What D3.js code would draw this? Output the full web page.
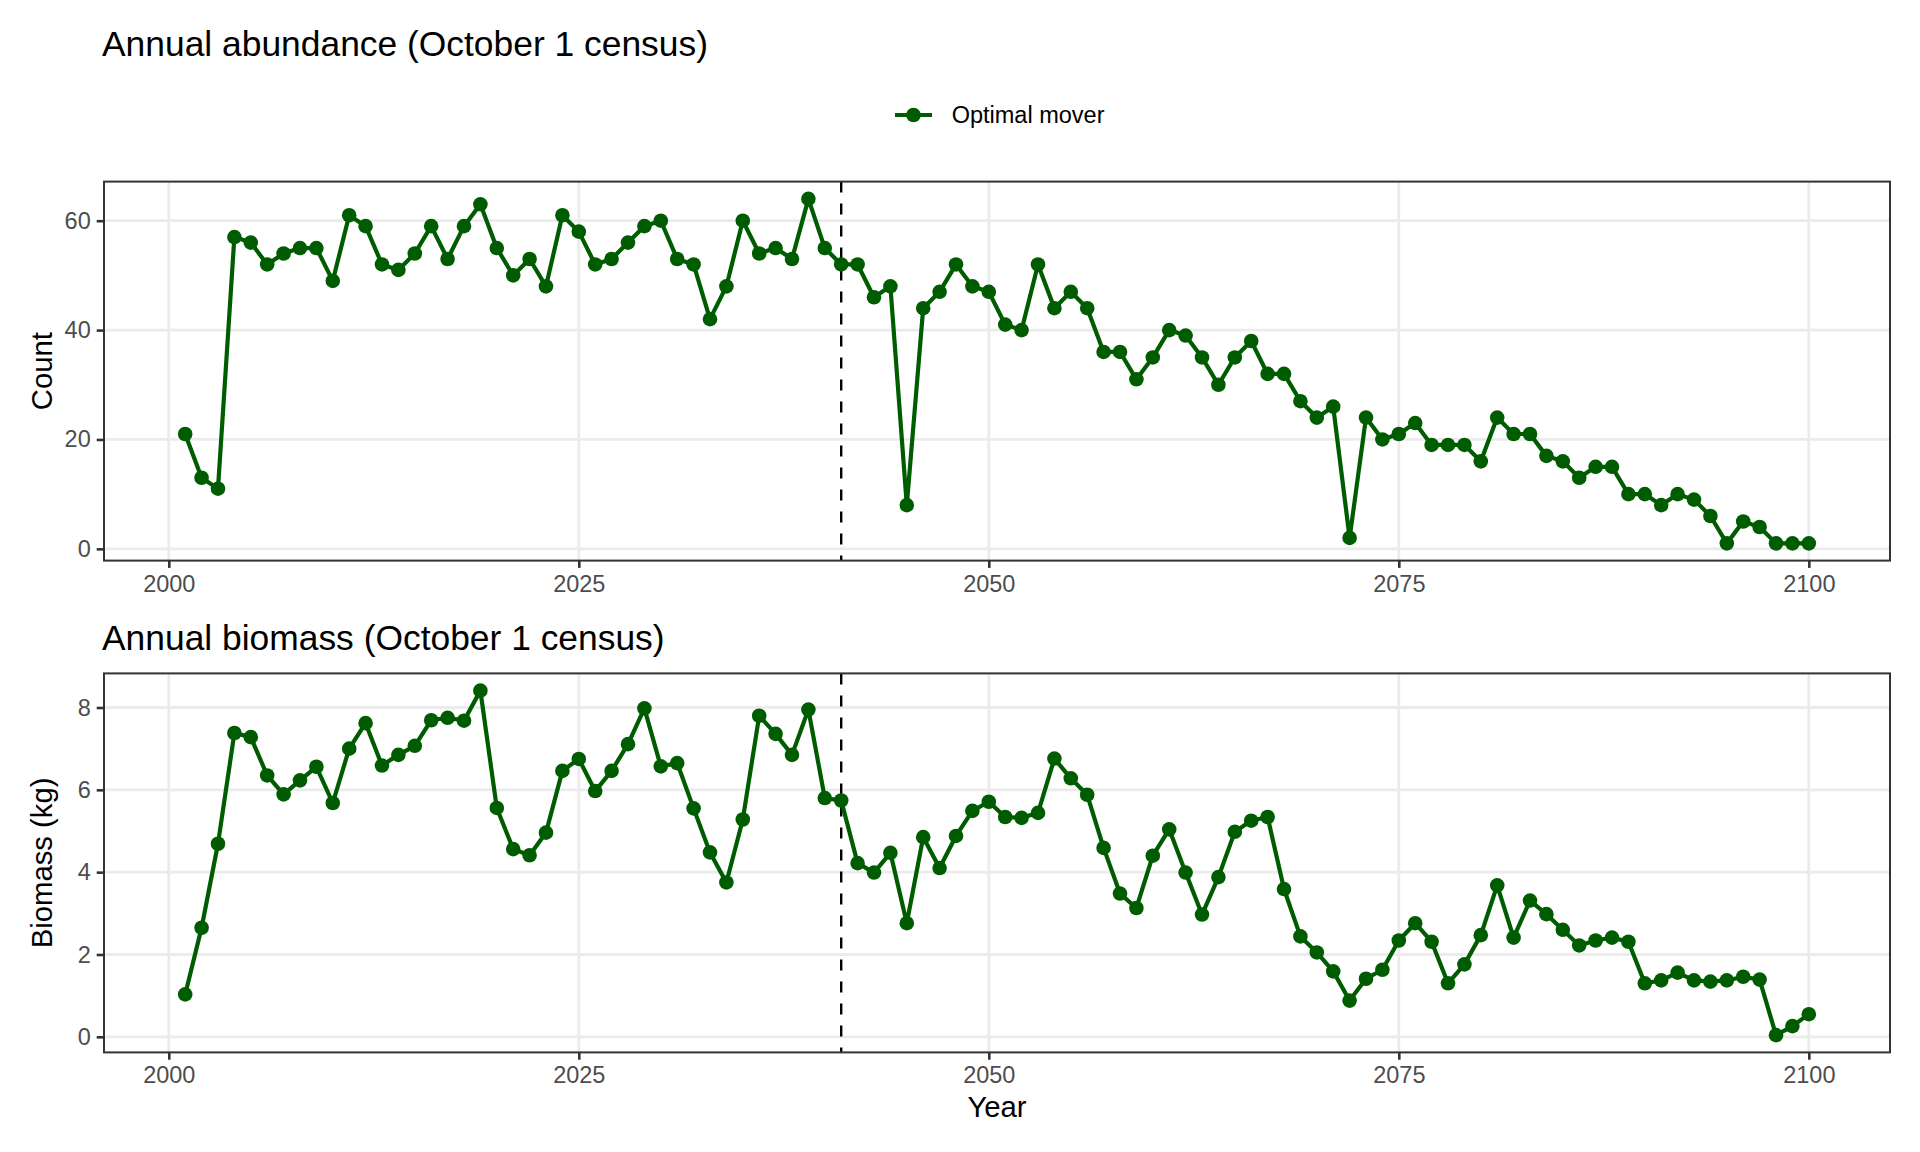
<!DOCTYPE html>
<html>
<head>
<meta charset="utf-8">
<script src="https://cdn.jsdelivr.net/npm/d3@7"></script>
<style>
  body { margin: 0; background: #fff; }
  svg { display: block; font-family: "Liberation Sans", Arial, Helvetica, sans-serif; }
</style>
</head>
<body>
<svg id="chart" width="1920" height="1152"></svg>
<script>
// data
const years = d3.range(2001, 2101);

const counts = [21, 13, 11, 57, 56, 52, 54, 55, 55, 49,
  61, 59, 52, 51, 54, 59, 53, 59, 63, 55,
  50, 53, 48, 61, 58, 52, 53, 56, 59, 60,
  53, 52, 42, 48, 60, 54, 55, 53, 64, 55,
  52, 52, 46, 48, 8, 44, 47, 52, 48, 47,
  41, 40, 52, 44, 47, 44, 36, 36, 31, 35,
  40, 39, 35, 30, 35, 38, 32, 32, 27, 24,
  26, 2, 24, 20, 21, 23, 19, 19, 19, 16,
  24, 21, 21, 17, 16, 13, 15, 15, 10, 10,
  8, 10, 9, 6, 1, 5, 4, 1, 1, 1];

const biomass = [1.03, 2.65, 4.69, 7.38, 7.28, 6.35, 5.89, 6.23, 6.56, 5.68,
  7.00, 7.62, 6.59, 6.85, 7.07, 7.69, 7.75, 7.68, 8.41, 5.56,
  4.56, 4.41, 4.96, 6.46, 6.75, 5.97, 6.46, 7.11, 7.98, 6.57,
  6.65, 5.55, 4.48, 3.75, 5.28, 7.80, 7.36, 6.85, 7.95, 5.80,
  5.74, 4.22, 3.99, 4.47, 2.76, 4.85, 4.10, 4.88, 5.49, 5.71,
  5.34, 5.32, 5.44, 6.76, 6.28, 5.88, 4.59, 3.48, 3.13, 4.40,
  5.04, 3.99, 2.97, 3.88, 4.98, 5.25, 5.34, 3.59, 2.44, 2.05,
  1.59, 0.88, 1.41, 1.63, 2.34, 2.76, 2.31, 1.30, 1.76, 2.47,
  3.68, 2.41, 3.31, 2.98, 2.60, 2.22, 2.34, 2.41, 2.31, 1.30,
  1.37, 1.56, 1.37, 1.34, 1.37, 1.46, 1.39, 0.04, 0.26, 0.55];

const xTicks = [2000, 2025, 2050, 2075, 2100];
const countTicks = [0, 20, 40, 60];
const biomassTicks = [0, 2, 4, 6, 8];
const switchYear = 2041;
const seriesName = "Optimal mover";

const green = "#005c00";
const svg = d3.select("#chart");

const left = 104, right = 1890;

// ggplot-style 5% expansion
function expand(ext) {
  const pad = (ext[1] - ext[0]) * 0.05;
  return [ext[0] - pad, ext[1] + pad];
}

const x = d3.scaleLinear().domain(expand(d3.extent(years))).range([left, right]);

function panel(opts) {
  const values = opts.values;
  const y = d3.scaleLinear().domain(expand(d3.extent(values))).range([opts.bottom, opts.top]);
  const g = svg.append("g");

  // title
  svg.append("text")
    .attr("x", 102).attr("y", opts.titleY)
    .attr("font-size", 35.4).attr("fill", "#000")
    .text(opts.title);

  // grid
  g.selectAll(".hgrid").data(opts.yTicks).enter().append("line")
    .attr("x1", left).attr("x2", right)
    .attr("y1", d => y(d)).attr("y2", d => y(d))
    .attr("stroke", "#ebebeb").attr("stroke-width", 2.8);
  g.selectAll(".vgrid").data(xTicks).enter().append("line")
    .attr("x1", d => x(d)).attr("x2", d => x(d))
    .attr("y1", opts.top).attr("y2", opts.bottom)
    .attr("stroke", "#ebebeb").attr("stroke-width", 2.8);

  // dashed reference line
  g.append("line")
    .attr("x1", x(switchYear)).attr("x2", x(switchYear))
    .attr("y1", opts.top).attr("y2", opts.bottom)
    .attr("stroke", "#000").attr("stroke-width", 2.4)
    .attr("stroke-dasharray", "11,11");

  const pts = years.map((yr, i) => ({ yr: yr, v: values[i] }));

  g.append("path")
    .datum(pts)
    .attr("fill", "none")
    .attr("stroke", green)
    .attr("stroke-width", 4.2)
    .attr("stroke-linejoin", "round")
    .attr("d", d3.line().x(d => x(d.yr)).y(d => y(d.v)));

  g.selectAll(".pt").data(pts).enter().append("circle")
    .attr("cx", d => x(d.yr)).attr("cy", d => y(d.v))
    .attr("r", 7.3).attr("fill", green);

  // border
  g.append("rect")
    .attr("x", left).attr("y", opts.top)
    .attr("width", right - left).attr("height", opts.bottom - opts.top)
    .attr("fill", "none").attr("stroke", "#333").attr("stroke-width", 2);

  // y axis
  const ya = g.append("g").attr("transform", `translate(${left},0)`)
    .call(d3.axisLeft(y).tickValues(opts.yTicks).tickSize(7.3).tickPadding(6));
  ya.select(".domain").remove();
  ya.selectAll(".tick line").attr("stroke", "#333").attr("stroke-width", 2.6);
  ya.selectAll(".tick text")
    .attr("font-size", 23.5).attr("fill", "#4d4d4d")
    .attr("font-family", "Liberation Sans, Arial, sans-serif");

  // x axis
  const xa = g.append("g").attr("transform", `translate(0,${opts.bottom})`)
    .call(d3.axisBottom(x).tickValues(xTicks).tickFormat(d3.format("d")).tickSize(7.3).tickPadding(7));
  xa.select(".domain").remove();
  xa.selectAll(".tick line").attr("stroke", "#333").attr("stroke-width", 2.6);
  xa.selectAll(".tick text")
    .attr("font-size", 23.5).attr("fill", "#4d4d4d")
    .attr("font-family", "Liberation Sans, Arial, sans-serif");

  // y title
  svg.append("text")
    .attr("transform", `translate(52,${(opts.top + opts.bottom) / 2}) rotate(-90)`)
    .attr("text-anchor", "middle")
    .attr("font-size", 29.3).attr("fill", "#000")
    .text(opts.yLabel);
}

panel({ values: counts, top: 181.6, bottom: 560.6, yTicks: countTicks,
  title: "Annual abundance (October 1 census)", titleY: 55.5, yLabel: "Count" });
panel({ values: biomass, top: 673.4, bottom: 1052.4, yTicks: biomassTicks,
  title: "Annual biomass (October 1 census)", titleY: 650, yLabel: "Biomass (kg)" });

// x title
svg.append("text")
  .attr("x", (left + right) / 2).attr("y", 1116.5)
  .attr("text-anchor", "middle")
  .attr("font-size", 29.3).attr("fill", "#000")
  .text("Year");

// legend
const leg = svg.append("g");
leg.append("line")
  .attr("x1", 895).attr("x2", 932).attr("y1", 115).attr("y2", 115)
  .attr("stroke", green).attr("stroke-width", 4.2);
leg.append("circle").attr("cx", 913.5).attr("cy", 115).attr("r", 7.3).attr("fill", green);
leg.append("text")
  .attr("x", 951.7).attr("y", 123.3)
  .attr("font-size", 23.5).attr("fill", "#000")
  .text(seriesName);
</script>
</body>
</html>
